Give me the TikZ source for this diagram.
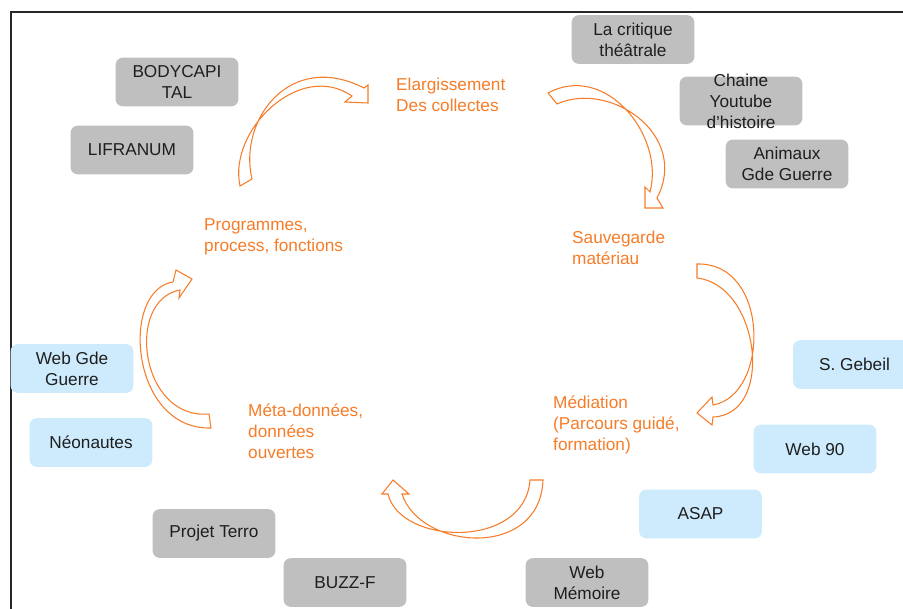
\documentclass[tikz,border=0pt]{standalone}
\usepackage{fontspec}
\setmainfont{Liberation Sans}
\usetikzlibrary{positioning}
\definecolor{cycleorange}{RGB}{246,124,40}
\definecolor{greyfill}{RGB}{191,191,191}
\definecolor{bluefill}{RGB}{205,235,252}
\definecolor{boxink}{RGB}{30,30,30}

\begin{document}
\begin{tikzpicture}[x=0.03cm, y=-0.03cm,
	every node/.style={font=\fontsize{14.7}{18}\selectfont},
	source/.style={rounded corners=6pt, minimum width=3.68cm, minimum height=1.46cm, inner sep=0pt, align=center, text=boxink},
	greysrc/.style={source, fill=greyfill},
	bluesrc/.style={source, fill=bluefill},
	stage/.style={text=cycleorange, align=left, anchor=west, inner sep=0pt},
	bigarrow/.style={draw=cycleorange, fill=white, line width=0.9pt}]

\clip (0,0) rectangle (903,608);
\draw[line width=1.2pt, draw=black!85] (11,12) rectangle (940,650);   %frame

%stages of the cycle
\node[stage] (elarg) at (396,95) {Elargissement\\Des collectes};
\node[stage] (sauv) at (572,248) {Sauvegarde\\matériau};
\node[stage] (med) at (553,425) {Médiation\\(Parcours guidé,\\formation)};
\node[stage] (meta) at (248,431) {Méta-données,\\données\\ouvertes};
\node[stage] (prog) at (204,237) {Programmes,\\process, fonctions};

%grey sources
\node[greysrc] (body) at (177,82) {BODYCAPI\\TAL};
\node[greysrc] (lifr) at (132,150) {LIFRANUM};
\node[greysrc] (crit) at (633,39.5) {La critique\\théâtrale};
\node[greysrc] (chaine) at (741,101) {};
\node[text=boxink, align=center, inner sep=0pt] (chainetext) at (chaine) {Chaine\\Youtube\\d’histoire};   %text runs over the box
\node[greysrc] (anim) at (787,164) {Animaux\\Gde Guerre};
\node[greysrc] (terro) at (214,533.5) {Projet Terro};
\node[greysrc] (buzz) at (345,582.5) {BUZZ-F};
\node[greysrc] (webmem) at (587,582.5) {Web\\Mémoire};

%blue sources
\node[bluesrc] (webgde) at (72,368.5) {Web Gde\\Guerre};
\node[bluesrc] (neo) at (91,442.5) {Néonautes};
\node[bluesrc] (gebeil) at (854.5,364.5) {S. Gebeil};
\node[bluesrc] (web90) at (815,449) {Web 90};
\node[bluesrc] (asap) at (700.5,514) {ASAP};

%curved arrows
\draw[bigarrow] (240,186) .. controls (228,130) and (300,60) .. (352,96) -- (345,102) -- (368,103) -- (368,85) -- (364,88) .. controls (290,50) and (238,120) .. (252,179) -- cycle;   %prog -> elarg
\draw[bigarrow] (548,93) .. controls (605,62) and (665,135) .. (650,192) -- (645,187) -- (645,208) -- (663,208) -- (657,198) .. controls (690,135) and (610,80) .. (557,104) -- cycle;   %elarg -> sauv
\draw[bigarrow] (697,264) .. controls (770,262) and (770,395) .. (713,405) -- (712,397) -- (697,413) -- (712,425) -- (713,417) .. controls (775,415) and (760,285) .. (697,278) -- cycle;   %sauv -> med
\draw[bigarrow] (530,480) .. controls (525,550) and (400,545) .. (388,494) -- (382,494) -- (393,480) -- (409,494) -- (402,494) .. controls (420,550) and (540,560) .. (543,480) -- cycle;   %med -> meta
\draw[bigarrow] (209,414) .. controls (140,420) and (125,300) .. (180,290) -- (179,298) -- (192,279) -- (176,270) -- (173,282) .. controls (120,290) and (130,430) .. (211,428) -- cycle;   %meta -> prog

\end{tikzpicture}
\end{document}
